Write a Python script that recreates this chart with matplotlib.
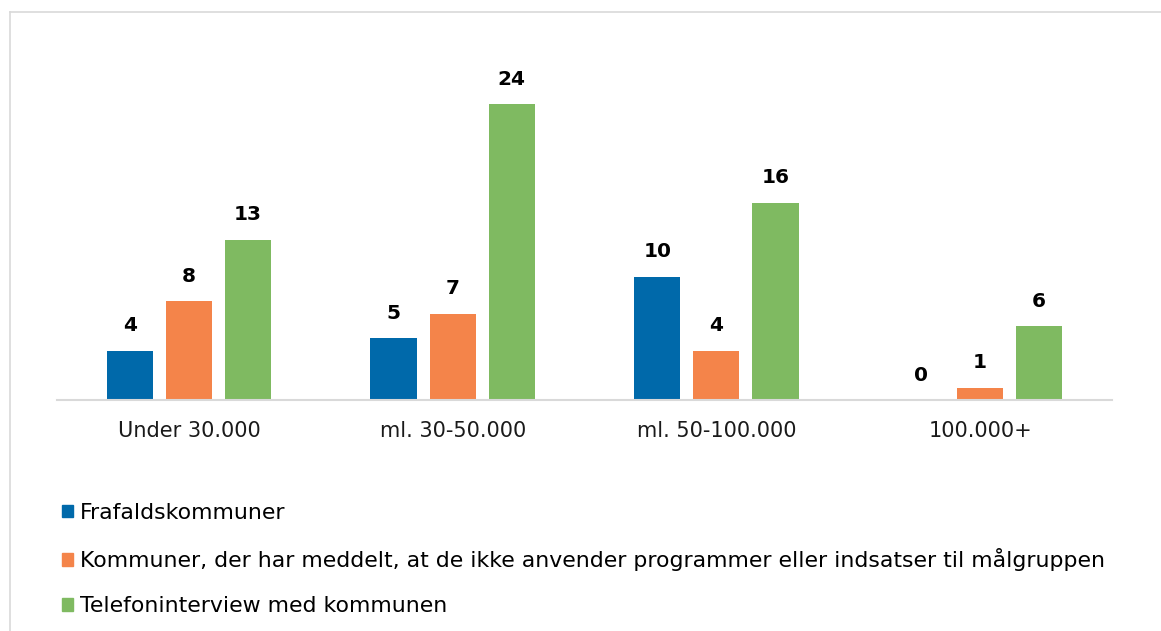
import matplotlib
import matplotlib.pyplot as plt
import matplotlib.patches as mpatches
from matplotlib.lines import Line2D
import numpy as np

plt.rcParams['font.family'] = ['DejaVu Sans']
plt.rcParams['font.sans-serif'] = ['DejaVu Sans']

categories = ["Under 30.000", "ml. 30-50.000", "ml. 50-100.000", "100.000+"]
series_names = [
    "Frafaldskommuner",
    "Kommuner, der har meddelt, at de ikke anvender programmer eller indsatser til målgruppen",
    "Telefoninterview med kommunen",
]
frafald = [4, 5, 10, 0]
ikke_anvender = [8, 7, 4, 1]
telefon = [13, 24, 16, 6]
colors = ["#0069aa", "#f4844a", "#7fba61"]

W, H = 1161, 631
fig = plt.figure(figsize=(W / 100, H / 100), dpi=100)

# axes placed in pixel terms: baseline at y=400, x from 57 to 1112
ax = fig.add_axes([57 / W, (H - 400) / H, (1112 - 57) / W, 360 / H])
ylim_top = 360 / 12.33
ax.set_ylim(0, ylim_top)
ax.set_xlim(-0.5, 3.5)

x = np.arange(len(categories))
width = 0.175
step = 0.224
for i, (vals, col) in enumerate(zip([frafald, ikke_anvender, telefon], colors)):
    bars = ax.bar(x + (i - 1) * step, vals, width, color=col, label=series_names[i])
    ax.bar_label(bars, padding=11, fontsize=14.5, fontweight='bold', color='black',
                 family='DejaVu Sans')

for s in ['top', 'right', 'left']:
    ax.spines[s].set_visible(False)
ax.spines['bottom'].set_color('#d9d9d9')
ax.spines['bottom'].set_linewidth(1.5)
ax.set_yticks([])
ax.set_xticks(x)
ax.set_xticklabels(categories, fontsize=15, color='#1a1a1a', family='DejaVu Sans')
ax.tick_params(axis='x', length=0, pad=15)

handles = [mpatches.Patch(color=c) for c in colors]
fig.legend(handles, series_names, loc='upper left', bbox_to_anchor=(62 / W, 1 - 503 / H),
           frameon=False, prop={'family': 'DejaVu Sans', 'size': 15.8},
           handlelength=0.5, handleheight=0.5,
           handletextpad=0.3, labelspacing=1.15, borderaxespad=0, borderpad=0)

# outer frame (cut off on right and bottom)
fig.add_artist(Line2D([10 / W, 1], [1 - 12 / H, 1 - 12 / H], color='#d9d9d9', lw=1.2))
fig.add_artist(Line2D([10 / W, 10 / W], [0, 1 - 12 / H], color='#d9d9d9', lw=1.2))

fig.savefig("out.png", dpi=100)
